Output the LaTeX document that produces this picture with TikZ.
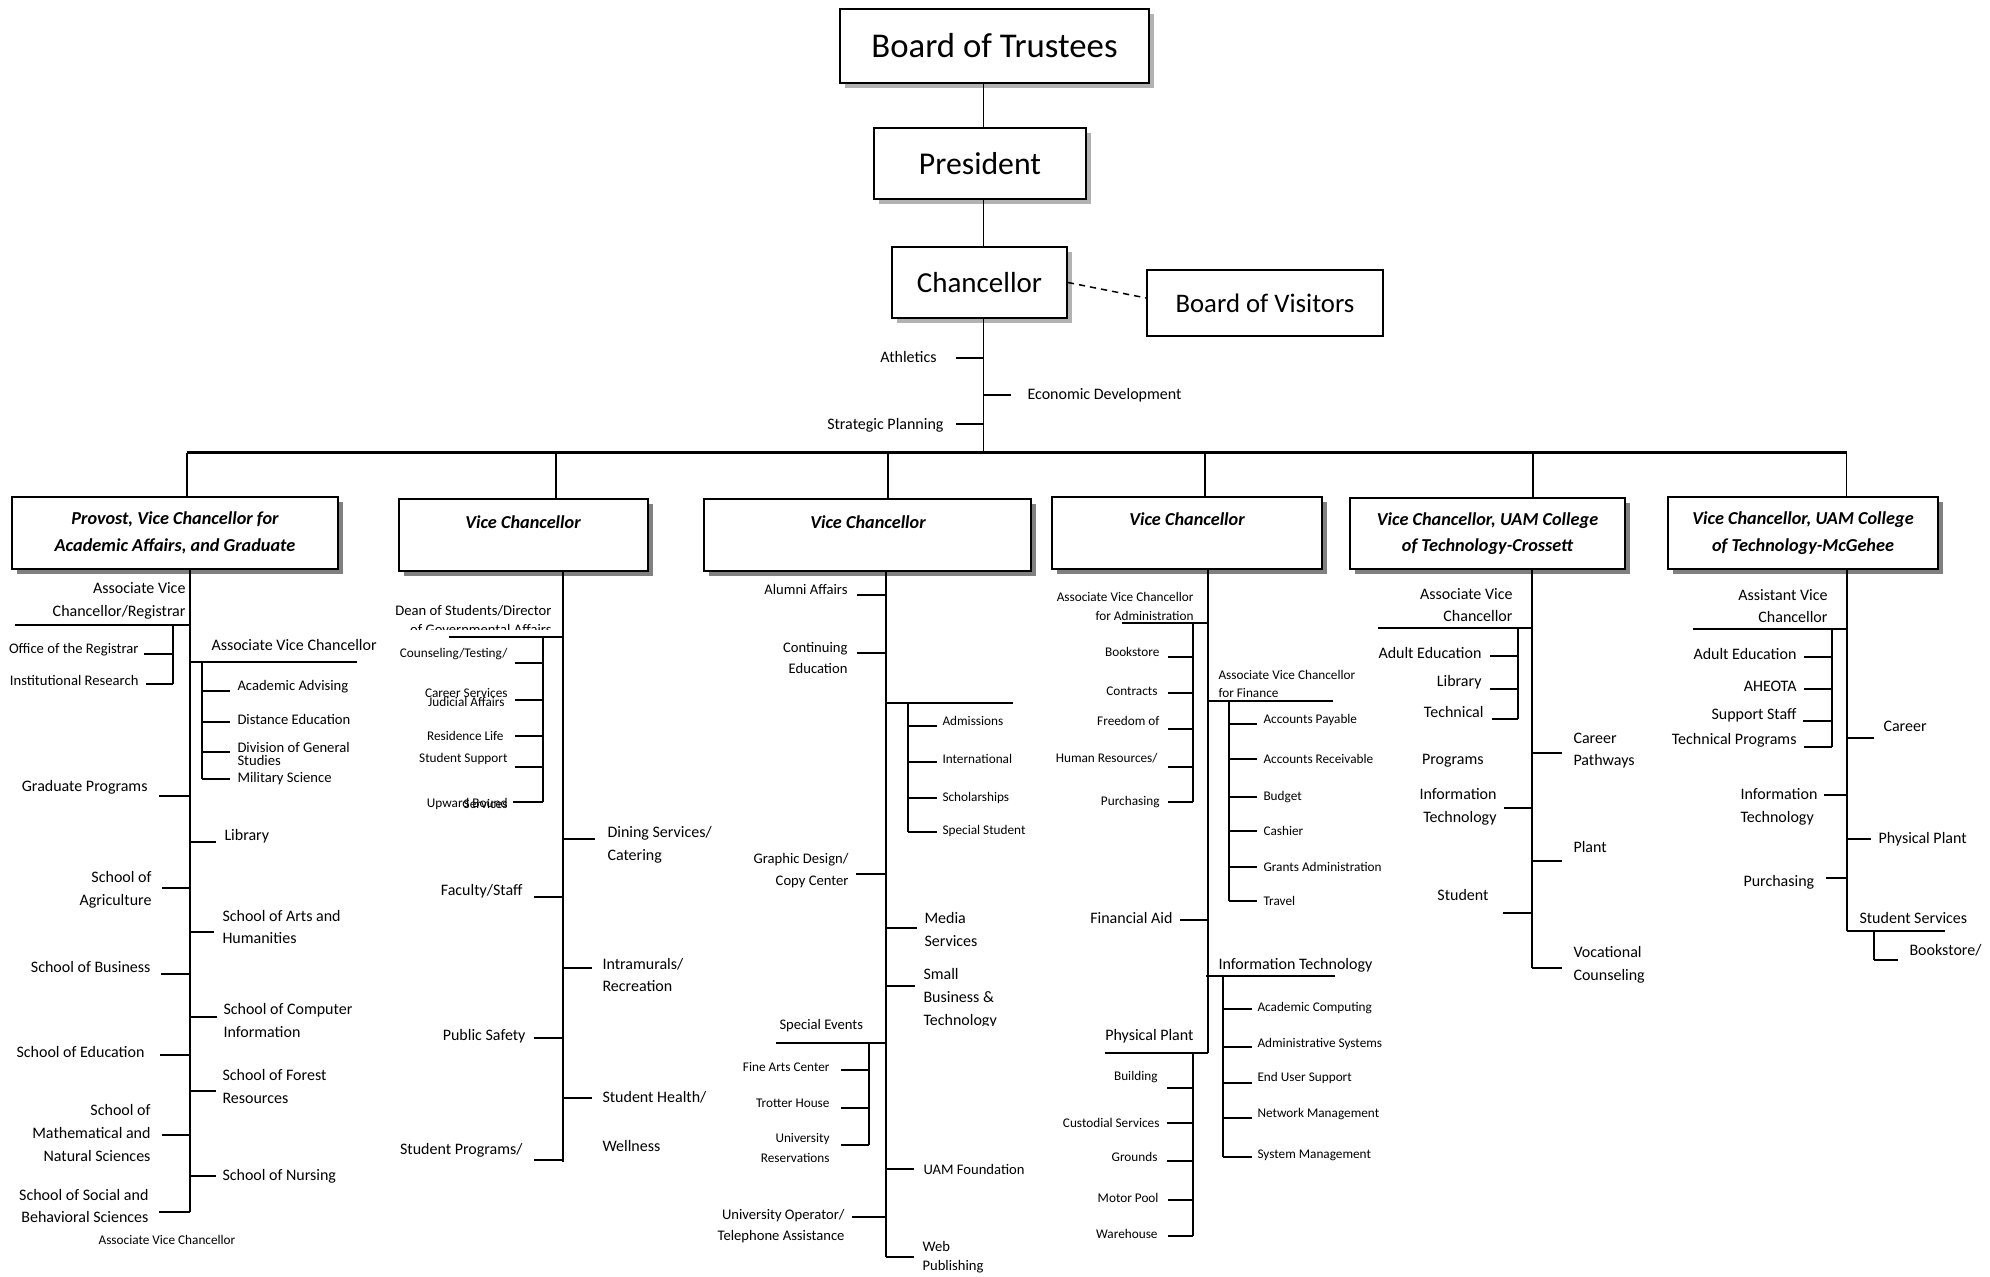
\documentclass[tikz,border=0pt]{standalone}
\usepackage{fontspec}
\setmainfont{Carlito}
\newcommand\fzA{\fontsize{6.4pt}{9.1pt}\selectfont}
\newcommand\fzB{\fontsize{5.85pt}{7.6pt}\selectfont}
\newcommand\fzC{\fontsize{5.3pt}{7.6pt}\selectfont}
\newcommand\fzT{\fontsize{7.3pt}{10.6pt}\selectfont\bfseries\itshape}
\newcommand\tk[4]{\coordinate (#1a) at (#2,#4);\coordinate (#1b) at (#3,#4);\draw[ln] (#1a) -- (#1b);}
\newcommand\vk[4]{\coordinate (#1a) at (#2,#3);\coordinate (#1b) at (#2,#4);\draw[ln] (#1a) -- (#1b);}
\begin{document}
\begin{tikzpicture}[x=0.4pt,y=-0.4pt,
 ln/.style={line width=0.7pt},
 labL/.style={anchor=east,align=right,inner sep=0pt},
 labR/.style={anchor=west,align=left,inner sep=0pt},
 szA/.style={font=\fzA}, szB/.style={font=\fzB}, szC/.style={font=\fzC},
 topbox/.style={draw,line width=0.7pt,fill=white,inner sep=0pt,preaction={fill=black!30,transform canvas={shift={(2pt,-2pt)}}}},
 vcbox/.style={draw,line width=0.9pt,fill=white,inner sep=0pt,align=center,font=\fzT,preaction={fill=black!50,transform canvas={shift={(2pt,-2pt)}}}},
 ttl/.style={inner sep=0pt,font=\fzT}]
\fill[white] (0,0) rectangle (1990,1277);
\useasboundingbox (0,0) rectangle (1990,1277);

% ---------- top ----------
\node[topbox,minimum width=123.6pt,minimum height=29.6pt,font=\fontsize{13.9pt}{16pt}\selectfont] (bot) at (994.5,46) {Board of Trustees};
\node[topbox,minimum width=84.8pt,minimum height=28.4pt,font=\fontsize{12.7pt}{15pt}\selectfont] (pres) at (980,163.5) {President};
\node[topbox,minimum width=70pt,minimum height=28.4pt,font=\fontsize{11.6pt}{14pt}\selectfont] (chan) at (979.5,282.5) {Chancellor};
\node[draw,line width=0.7pt,fill=white,inner sep=0pt,minimum width=94.4pt,minimum height=26.4pt,font=\fontsize{10.7pt}{13pt}\selectfont] (bov) at (1265,303) {Board of Visitors};
\coordinate (busM) at (983.5,453);
\coordinate (busL) at (186.5,453);
\coordinate (busR) at (1846.5,453);
\draw[line width=0.5pt] (bot.south -| busM) -- (pres.north -| busM);
\draw[line width=0.5pt] (pres.south -| busM) -- (chan.north -| busM);
\draw[line width=0.7pt] (chan.south -| busM) -- (busM);
\draw[line width=0.6pt,dash pattern=on 2.5pt off 2pt] (chan.east) -- ([yshift=2pt]bov.west);
\tk{ath}{956}{983.5}{358}
\node[labL,szA] (athl) at (937,357) {Athletics};
\tk{eco}{983.5}{1011}{395}
\node[labR,szA] (econ) at (1027,395) {Economic Development};
\tk{str}{956}{983.5}{424}
\node[labL,szA] (strat) at (944,425) {Strategic Planning};
\draw[line width=1.2pt] (busL) -- (busR);

% ---------- boxes ----------
\node[vcbox,minimum width=130.4pt,minimum height=28.8pt] (prov) at (175,533) {Provost, Vice Chancellor for\\Academic Affairs, and Graduate};
\node[vcbox,minimum width=99.6pt,minimum height=28.8pt] (vc1) at (523.5,535) {};
\node[ttl] (vc1t) at (523,522) {Vice Chancellor};
\node[vcbox,minimum width=130.8pt,minimum height=28.8pt] (vc2) at (867.5,535) {};
\node[ttl] (vc2t) at (868,522) {Vice Chancellor};
\node[vcbox,minimum width=108pt,minimum height=28.8pt] (vc3) at (1187,533) {};
\node[ttl] (vc3t) at (1187,519) {Vice Chancellor};
\node[vcbox,minimum width=110pt,minimum height=28.4pt] (vc4) at (1487.5,533.5) {Vice Chancellor, UAM College\\of Technology-Crossett};
\node[vcbox,minimum width=108pt,minimum height=28.8pt] (vc5) at (1803,533) {Vice Chancellor, UAM College\\of Technology-McGehee};
\coordinate (d1) at (187,453);
\coordinate (d2) at (556,453);
\coordinate (d3) at (888,453);
\coordinate (d4) at (1205,453);
\coordinate (d5) at (1533,453);
\coordinate (d6) at (1846.5,453);
\draw[ln] (d1) -- (prov.north -| d1);
\draw[ln] (d2) -- (vc1.north -| d2);
\draw[ln] (d3) -- (vc2.north -| d3);
\draw[ln] (d4) -- (vc3.north -| d4);
\draw[ln] (d5) -- (vc4.north -| d5);
\draw[ln] (d6) -- (vc5.north -| d6);

% ---------- column 1 ----------
\coordinate (c1b) at (190,1212);
\draw[line width=0.8pt] (prov.south -| c1b) -- (c1b);
\node[labL,szA] (avcreg) at (186,600.5) {Associate Vice\\Chancellor/Registrar};
\tk{c1r}{15}{190}{625}
\vk{c1rs}{173}{625}{684}
\node[labL,szB] (offreg) at (139,650) {Office of the Registrar};
\tk{c1r1}{144}{173}{654}
\node[labL,szB] (instres) at (139,680) {Institutional Research};
\tk{c1r2}{146}{173}{684}
\node[labR,szA] (avc1) at (211,645) {Associate Vice Chancellor};
\tk{c1a}{190}{357}{662}
\vk{c1as}{202}{662}{779}
\node[labR,szB] (acadv) at (237,687) {Academic Advising};
\tk{c1a1}{202}{230}{691}
\node[labR,szB] (disted) at (237,719) {Distance Education};
\tk{c1a2}{202}{230}{722}
\node[labR,font=\fontsize{5.85pt}{5.4pt}\selectfont] (divgen) at (237,754) {Division of General\\Studies};
\tk{c1a3}{202}{230}{752}
\node[labR,szB] (milsci) at (237,779) {Military Science};
\tk{c1a4}{202}{230}{779}
\node[labL,szA] (gradp) at (148,787) {Graduate Programs};
\tk{c1g}{159}{190}{796}
\node[labR,szA] (lib1) at (224,836) {Library};
\tk{c1l}{190}{216}{842}
\node[labL,szA] (sagr) at (152,890) {School of\\Agriculture};
\tk{c1s1}{162}{190}{888}
\node[labR,szA] (sarts) at (222,927) {School of Arts and\\Humanities};
\tk{c1s2}{190}{214}{932}
\node[labL,szA] (sbus) at (151,967) {School of Business};
\tk{c1s3}{161}{190}{974}
\node[labR,szA] (scomp) at (223,1020.5) {School of Computer\\Information};
\tk{c1s4}{190}{217}{1017}
\node[labL,szA] (sedu) at (145,1052) {School of Education};
\tk{c1s5}{160}{190}{1055}
\node[labR,szA] (sfor) at (222,1086.5) {School of Forest\\Resources};
\tk{c1s6}{190}{216}{1091}
\node[labL,szA] (smath) at (151,1133) {School of\\Mathematical and\\Natural Sciences};
\tk{c1s7}{162}{190}{1135}
\node[labR,szA] (snurs) at (222,1176) {School of Nursing};
\tk{c1s8}{190}{216}{1176}
\node[labL,szA] (ssoc) at (149,1206) {School of Social and\\Behavioral Sciences};
\tk{c1s9}{159}{190}{1212}
\node[inner sep=0pt,szC] (avcbot) at (167,1240) {Associate Vice Chancellor};

% ---------- column 2 ----------
\coordinate (c2b) at (563,1162);
\draw[ln] (vc1.south -| c2b) -- (c2b);
\begin{scope}
\clip (380,580) rectangle (600,629);
\node[labL,szB] (dean) at (552,620) {Dean of Students/Director\\of Governmental Affairs};
\end{scope}
\tk{c2d}{449}{563}{637}
\vk{c2ds}{543}{637}{802}
\node[labL,szC] (couns) at (508,654) {Counseling/Testing/};
\tk{c2d1}{515}{543}{663}
\node[labL,szC] (career) at (508,693) {Career Services};
\node[labL,szC] (judic) at (505,702) {Judicial Affairs};
\tk{c2d2}{515}{543}{700}
\node[labL,szC] (reslife) at (504,736) {Residence Life};
\tk{c2d3}{515}{543}{736}
\node[labL,szC] (stsup) at (508,759) {Student Support};
\tk{c2d4}{515}{543}{767}
\node[labL,szC] (upward) at (508,804) {Upward Bound};
\node[labL,szC] (upserv) at (508,804) {Services};
\tk{c2d5}{513}{543}{802}
\node[labR,szA] (dining) at (607,844.5) {Dining Services/\\Catering};
\tk{c2e1}{563}{595}{839}
\node[labL,szA] (facst) at (523,891) {Faculty/Staff};
\tk{c2e2}{534}{563}{897}
\node[labR,szA] (intram) at (602,975) {Intramurals/\\Recreation};
\tk{c2e3}{563}{592}{968}
\node[labL,szA] (pubsaf) at (526,1036) {Public Safety};
\tk{c2e4}{534}{563}{1038}
\node[labR,szA] (sthealth) at (602,1097) {Student Health/};
\tk{c2e5}{563}{592}{1098}
\node[labR,szA] (wellness) at (602,1146) {Wellness};
\node[labL,szA] (stprog) at (523,1150) {Student Programs/};
\tk{c2e6}{534}{563}{1160}

% ---------- column 3 ----------
\coordinate (c3b) at (886,1257);
\draw[ln] (vc2.south -| c3b) -- (c3b);
\node[labL,szB] (alumni) at (848,589) {Alumni Affairs};
\tk{c3a}{857}{886}{595}
\node[labL,font=\fontsize{5.85pt}{8.4pt}\selectfont] (conted) at (848,657.5) {Continuing\\Education};
\tk{c3b1}{857}{886}{653}
\tk{c3c}{886}{1013}{703}
\vk{c3cs}{908}{703}{832}
\node[labR,szC] (admis) at (942,721) {Admissions};
\tk{c3c1}{908}{937}{726}
\node[labR,szC] (intl) at (942,759) {International};
\tk{c3c2}{908}{937}{762}
\node[labR,szC] (schol) at (942,798) {Scholarships};
\tk{c3c3}{908}{937}{798}
\node[labR,szC] (specst) at (942,831) {Special Student};
\tk{c3c4}{908}{937}{832}
\node[labL,font=\fontsize{5.85pt}{8.8pt}\selectfont] (graph) at (849,871) {Graphic Design/\\Copy Center};
\tk{c3d}{856}{886}{874}
\node[labR,szA] (media) at (924,929.5) {Media\\Services};
\tk{c3e}{886}{917}{928}
\begin{scope}
\clip (900,950) rectangle (1060,1025);
\node[labR,szA] (smallb) at (923,998.5) {Small\\Business \&\\Technology};
\end{scope}
\tk{c3f}{886}{915}{986}
\node[labR,szB] (spev) at (779,1026) {Special Events};
\tk{c3g}{776}{886}{1043}
\vk{c3gs}{869}{1043}{1145}
\node[labL,szC] (finearts) at (830,1067) {Fine Arts Center};
\tk{c3g1}{841}{869}{1070}
\node[labL,szC] (trotter) at (830,1103) {Trotter House};
\tk{c3g2}{841}{869}{1108}
\node[labL,font=\fontsize{5.3pt}{8pt}\selectfont] (univres) at (830,1148) {University\\Reservations};
\tk{c3g3}{841}{869}{1145}
\node[labR,szB] (uamf) at (923,1169) {UAM Foundation};
\tk{c3h}{886}{914}{1169}
\node[labL,font=\fontsize{5.85pt}{8.4pt}\selectfont] (operator) at (845,1226.5) {University Operator/\\Telephone Assistance};
\tk{c3i}{852}{886}{1217}
\node[labR,szB] (webpub) at (922,1257.5) {Web\\Publishing};
\tk{c3j}{886}{914}{1257}

% ---------- column 4 ----------
\coordinate (c4b) at (1208,1053);
\draw[ln] (vc3.south -| c4b) -- (c4b);
\node[labL,szC] (avcadm) at (1194,606.5) {Associate Vice Chancellor\\for Administration};
\tk{c4a}{1122}{1208}{623}
\vk{c4as}{1193}{623}{802}
\node[labL,szC] (bookst) at (1160,652) {Bookstore};
\tk{c4a1}{1168}{1193}{657}
\node[labL,szC] (contr) at (1158,691) {Contracts};
\tk{c4a2}{1168}{1193}{693}
\node[labL,szC] (freed) at (1160,721) {Freedom of};
\tk{c4a3}{1168}{1193}{729}
\node[labL,szC] (humres) at (1158,758) {Human Resources/};
\tk{c4a4}{1168}{1193}{767}
\node[labL,szC] (purch4) at (1160,802) {Purchasing};
\tk{c4a5}{1168}{1193}{802}
\node[labR,font=\fontsize{5.3pt}{7.2pt}\selectfont] (avcfin) at (1218,684) {Associate Vice Chancellor\\for Finance};
\tk{c4f}{1208}{1333}{701}
\vk{c4fs}{1229}{701}{901}
\node[labR,szC] (accpay) at (1263,720) {Accounts Payable};
\tk{c4f1}{1229}{1257}{724}
\node[labR,szC] (accrec) at (1263,759) {Accounts Receivable};
\tk{c4f2}{1229}{1257}{759}
\node[labR,szC] (budget) at (1263,797) {Budget};
\tk{c4f3}{1229}{1257}{797}
\node[labR,szC] (cashier) at (1263,831) {Cashier};
\tk{c4f4}{1229}{1257}{831}
\node[labR,szC] (grants) at (1263,867) {Grants Administration};
\tk{c4f5}{1229}{1257}{867}
\node[labR,szC] (travel) at (1263,901) {Travel};
\tk{c4f6}{1229}{1257}{901}
\node[labL,szA] (finaid) at (1173,918) {Financial Aid};
\tk{c4g}{1180}{1208}{920}
\node[labR,szA] (infotech4) at (1218,965) {Information Technology};
\tk{c4i}{1206}{1335}{976}
\vk{c4is}{1223}{976}{1157}
\node[labR,szC] (acadcomp) at (1257,1008) {Academic Computing};
\tk{c4i1}{1223}{1252}{1009}
\node[labR,szC] (adminsys) at (1257,1044) {Administrative Systems};
\tk{c4i2}{1223}{1252}{1047}
\node[labR,szC] (endusr) at (1257,1078) {End User Support};
\tk{c4i3}{1223}{1252}{1083}
\node[labR,szC] (netman) at (1257,1114) {Network Management};
\tk{c4i4}{1223}{1252}{1118}
\node[labR,szC] (sysman) at (1257,1155) {System Management};
\tk{c4i5}{1223}{1252}{1157}
\node[labL,szA] (physpl4) at (1194,1036) {Physical Plant};
\tk{c4p}{1105}{1208}{1053}
\vk{c4ps}{1193}{1053}{1236}
\node[labL,szC] (build) at (1158,1077) {Building};
\tk{c4p1}{1167}{1193}{1088}
\node[labL,szC] (custod) at (1160,1123) {Custodial Services};
\tk{c4p2}{1167}{1193}{1123}
\node[labL,szC] (grounds) at (1158,1157) {Grounds};
\tk{c4p3}{1167}{1193}{1161}
\node[labL,szC] (motor) at (1159,1198) {Motor Pool};
\tk{c4p4}{1168}{1193}{1200}
\node[labL,szC] (wareh) at (1158,1234) {Warehouse};
\tk{c4p5}{1168}{1193}{1236}

% ---------- column 5 ----------
\coordinate (c5b) at (1532,968);
\draw[ln] (vc4.south -| c5b) -- (c5b);
\node[labL,font=\fontsize{6.4pt}{8.8pt}\selectfont] (avc5) at (1513,605) {Associate Vice\\Chancellor};
\tk{c5a}{1378}{1532}{628}
\vk{c5as}{1518}{628}{719}
\node[labL,szA] (adult5) at (1482,653) {Adult Education};
\tk{c5a1}{1490}{1518}{656}
\node[labL,szA] (lib5) at (1482,682) {Library};
\tk{c5a2}{1490}{1518}{689}
\node[labL,szA] (tech5) at (1484,712) {Technical};
\tk{c5a3}{1492}{1518}{719}
\node[labL,szA] (prog5) at (1484,761) {Programs};
\node[labR,szA] (carp) at (1573,750.5) {Career\\Pathways};
\tk{c5b1}{1532}{1562}{753}
\node[labL,szA] (info5) at (1497,807) {Information\\Technology};
\tk{c5c}{1504}{1532}{808}
\node[labR,szA] (plant5) at (1573,847) {Plant};
\tk{c5d}{1532}{1562}{861}
\node[labL,szA] (stud5) at (1489,895) {Student};
\tk{c5e}{1503}{1532}{913}
\node[labR,szA] (voc5) at (1573,965) {Vocational\\Counseling};
\tk{c5f}{1532}{1562}{968}

% ---------- column 6 ----------
\coordinate (c6b) at (1847,931);
\draw[ln] (vc5.south -| c6b) -- (c6b);
\node[labL,font=\fontsize{6.4pt}{8.8pt}\selectfont] (asst6) at (1828,606) {Assistant Vice\\Chancellor};
\tk{c6a}{1693}{1847}{629}
\vk{c6as}{1832}{629}{747}
\node[labL,szA] (adult6) at (1797,654) {Adult Education};
\tk{c6a1}{1804}{1832}{657}
\node[labL,szA] (aheota) at (1797,686) {AHEOTA};
\tk{c6a2}{1804}{1832}{689}
\node[labL,szA] (suppst) at (1797,715) {Support Staff};
\tk{c6a3}{1803}{1832}{721}
\node[labL,szA] (techp6) at (1797,740) {Technical Programs};
\tk{c6a4}{1804}{1832}{747}
\node[labR,szA] (career6) at (1883,726) {Career};
\tk{c6b1}{1847}{1874}{738}
\node[labR,szA] (info6) at (1740,806.5) {Information\\Technology};
\tk{c6c}{1824}{1847}{795}
\node[labR,szA] (phys6) at (1878,839) {Physical Plant};
\tk{c6d}{1847}{1871}{839}
\node[labR,szA] (purch6) at (1743,882) {Purchasing};
\tk{c6e}{1826}{1847}{878}
\node[labR,szA] (stserv6) at (1859,918) {Student Services};
\tk{c6f}{1847}{1945}{931}
\vk{c6fs}{1874}{931}{960}
\tk{c6g}{1874}{1898}{960}
\node[labR,szA] (books6) at (1909,950) {Bookstore/};
\end{tikzpicture}
\end{document}
